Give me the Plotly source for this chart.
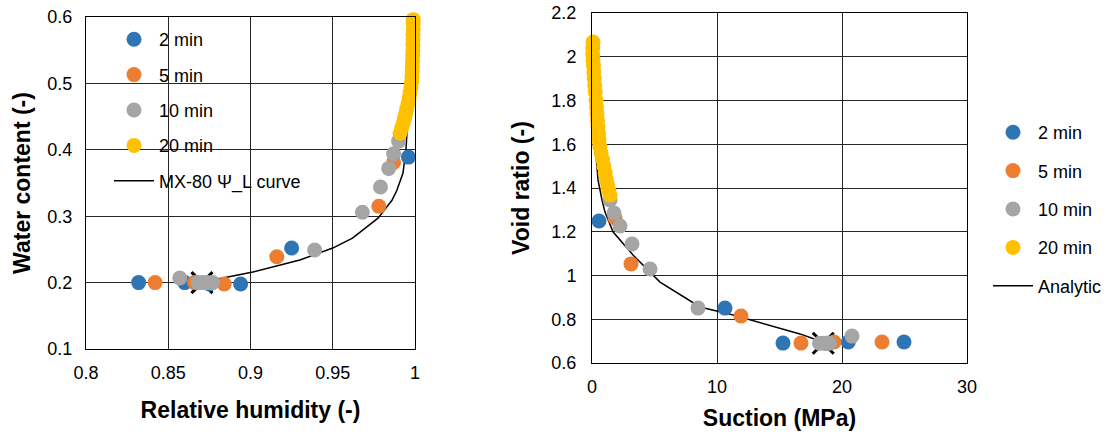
import plotly.graph_objects as go

# ---------------- Left panel: water content vs relative humidity ----------------
blue_rh = [0.832, 0.860, 0.875, 0.894, 0.925, 0.996]
blue_w = [0.200, 0.200, 0.198, 0.198, 0.252, 0.389]
orange_rh = [0.842, 0.866, 0.884, 0.916, 0.978, 0.987]
orange_w = [0.200, 0.200, 0.198, 0.239, 0.315, 0.381]
gray_rh = [0.857, 0.868, 0.871, 0.874, 0.877, 0.939, 0.968, 0.979, 0.984, 0.987, 0.990]
gray_w = [0.207, 0.200, 0.200, 0.200, 0.200, 0.249, 0.306, 0.344, 0.372, 0.394, 0.413]
yellow_rh = [0.9909, 0.9918, 0.9928, 0.9936, 0.9944, 0.9950, 0.9958, 0.9964, 0.9970, 0.9975,
             0.9979, 0.9981, 0.9983, 0.9984, 0.9985, 0.9986, 0.9987, 0.9987, 0.9988, 0.9988,
             0.9989, 0.9989, 0.9989]
yellow_w = [0.425, 0.432, 0.440, 0.447, 0.455, 0.462, 0.470, 0.478, 0.486, 0.494,
            0.502, 0.510, 0.518, 0.526, 0.534, 0.542, 0.550, 0.558, 0.566, 0.574,
            0.582, 0.590, 0.596]
curve_rh = [0.873, 0.877, 0.9015, 0.930, 0.950, 0.962, 0.9775, 0.986, 0.989, 0.9927, 0.9945, 0.9957, 0.9970, 0.998]
curve_w = [0.200, 0.204, 0.216, 0.234, 0.252, 0.267, 0.297, 0.324, 0.339, 0.365, 0.400, 0.449, 0.480, 0.510]
cross_rh = [0.8705]
cross_w = [0.200]

# ---------------- Right panel: void ratio vs suction ----------------
blue_s = [0.56, 10.64, 15.28, 18.8, 20.5, 24.96]
blue_e = [1.249, 0.851, 0.691, 0.690, 0.696, 0.696]
orange_s = [1.84, 3.12, 11.92, 16.72, 19.36, 23.2]
orange_e = [1.263, 1.053, 0.815, 0.691, 0.696, 0.696]
gray_s = [1.44, 1.76, 2.24, 3.2, 4.64, 8.48, 18.2, 18.5, 18.8, 19.0, 20.8]
gray_e = [1.345, 1.286, 1.226, 1.144, 1.030, 0.851, 0.690, 0.690, 0.690, 0.690, 0.723]
yellow_s = [0.08, 0.06, 0.05, 0.08, 0.12, 0.15, 0.18, 0.22, 0.26, 0.32, 0.36, 0.40, 0.44,
            0.48, 0.52, 0.56, 0.62, 0.72, 0.84, 0.95, 1.05, 1.15, 1.26, 1.34, 1.44]
yellow_e = [2.067, 2.04, 2.01, 1.985, 1.96, 1.93, 1.90, 1.87, 1.84, 1.80, 1.77, 1.74, 1.71,
            1.68, 1.65, 1.62, 1.59, 1.56, 1.53, 1.50, 1.47, 1.44, 1.41, 1.39, 1.368]
analytic_s = [0.03, 0.10, 0.25, 0.48, 0.80, 1.04, 1.68, 3.28, 5.44, 8.64, 11.3, 14.0, 16.64, 18.0, 18.5]
analytic_e = [2.05, 1.85, 1.60, 1.437, 1.345, 1.29, 1.20, 1.094, 0.970, 0.856, 0.819, 0.774, 0.733, 0.705, 0.692]
cross_s = [18.5]
cross_e = [0.690]

series_names = ["2 min", "5 min", "10 min", "20 min"]
colors = ["#2E75B6", "#ED7D31", "#A5A5A5", "#FFC000"]

FONT = "Liberation Sans, Arial, sans-serif"
MS = 15

fig = go.Figure()

# left panel
fig.add_trace(go.Scatter(x=curve_rh, y=curve_w, mode="lines", name="MX-80 \u03a8_L curve",
                         line=dict(color="black", width=1.5), xaxis="x", yaxis="y",
                         legend="legend", legendgroup="l5", legendrank=5))
fig.add_trace(go.Scatter(x=cross_rh, y=cross_w, mode="markers", showlegend=False,
                         marker=dict(symbol="x-thin", size=21, line=dict(color="black", width=3)),
                         xaxis="x", yaxis="y"))
for i, (xs, ys) in enumerate([(blue_rh, blue_w), (orange_rh, orange_w), (gray_rh, gray_w), (yellow_rh, yellow_w)]):
    fig.add_trace(go.Scatter(x=xs, y=ys, mode="markers", name=series_names[i],
                             marker=dict(color=colors[i], size=MS, line=dict(width=0)),
                             xaxis="x", yaxis="y", legend="legend", cliponaxis=False,
                             legendgroup="l%d" % i, legendrank=i + 1))

# right panel
fig.add_trace(go.Scatter(x=analytic_s, y=analytic_e, mode="lines", name="Analytic",
                         line=dict(color="black", width=1.5), xaxis="x2", yaxis="y2",
                         legend="legend2", legendgroup="r5", legendrank=5))
fig.add_trace(go.Scatter(x=cross_s, y=cross_e, mode="markers", showlegend=False,
                         marker=dict(symbol="x-thin", size=21, line=dict(color="black", width=3)),
                         xaxis="x2", yaxis="y2"))
for i, (xs, ys) in enumerate([(blue_s, blue_e), (orange_s, orange_e), (gray_s, gray_e), (yellow_s, yellow_e)]):
    fig.add_trace(go.Scatter(x=xs, y=ys, mode="markers", name=series_names[i],
                             marker=dict(color=colors[i], size=MS, line=dict(width=0)),
                             xaxis="x2", yaxis="y2", legend="legend2", cliponaxis=False,
                             legendgroup="r%d" % i, legendrank=i + 1))

W, H = 1113, 434
axis_common = dict(showline=True, mirror=True, linecolor="black", linewidth=1,
                   showgrid=True, gridcolor="#262626", gridwidth=1, zeroline=False,
                   ticks="", automargin=False,
                   tickfont=dict(family=FONT, size=18, color="black"))
title_font = dict(family=FONT, size=23, color="black", weight="bold")
legend_font = dict(family=FONT, size=18, color="black")

fig.update_layout(
    width=W, height=H,
    margin=dict(l=0, r=0, t=0, b=0, autoexpand=False),
    paper_bgcolor="white", plot_bgcolor="white",
    font=dict(family=FONT, color="black"),
    xaxis=dict(axis_common, domain=[86 / W, 415 / W], range=[0.8, 1.0], dtick=0.05, anchor="y",
               title=dict(text="Relative humidity (-)", font=title_font, standoff=20),
               ticklabelstandoff=7),
    yaxis=dict(axis_common, domain=[1 - 349 / H, 1 - 17 / H], range=[0.1, 0.6], dtick=0.1, anchor="x",
               title=dict(text="Water content (-)", font=title_font, standoff=10),
               ticklabelstandoff=9),
    xaxis2=dict(axis_common, domain=[592 / W, 967 / W], range=[0, 30], dtick=10, anchor="y2",
                title=dict(text="Suction (MPa)", font=title_font, standoff=14),
                ticklabelstandoff=7),
    yaxis2=dict(axis_common, domain=[1 - 363 / H, 1 - 13 / H], range=[0.6, 2.2], dtick=0.2, anchor="x2",
                title=dict(text="Void ratio (-)", font=title_font, standoff=15),
                ticklabelstandoff=11),
    legend=dict(x=109 / W, y=1 - 21 / H, xanchor="left", yanchor="top", itemwidth=40,
                font=legend_font, bgcolor="rgba(0,0,0,0)", tracegroupgap=9),
    legend2=dict(x=988 / W, y=1 - 114 / H, xanchor="left", yanchor="top", itemwidth=40,
                 font=legend_font, bgcolor="rgba(0,0,0,0)", tracegroupgap=12),
    showlegend=True,
)

fig.write_html("out.html", config={"displayModeBar": False},
               post_script="document.body.style.margin='0';document.body.style.padding='0';")
